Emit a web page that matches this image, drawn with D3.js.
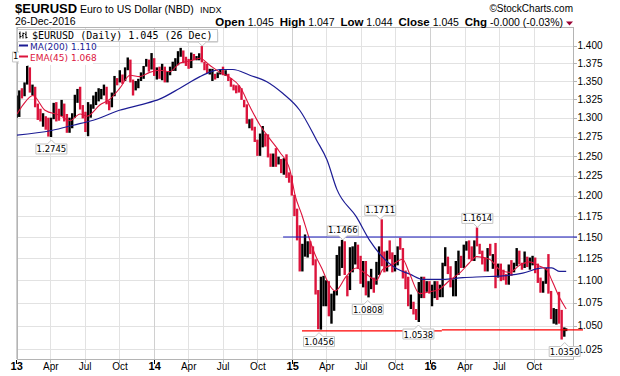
<!DOCTYPE html>
<html lang="en">
<head>
<meta charset="UTF-8">
<title>$EURUSD</title>
<script src="https://d3js.org/d3.v7.min.js"></script>
<style>
  body { margin: 0; background: #fff; }
  svg { display: block; }
  .grid line { stroke: #e2e2e2; stroke-width: 1; shape-rendering: crispEdges; }
  .axis path, .axis line { stroke: #b4b4b4; shape-rendering: crispEdges; }
  .axis text { font-family: 'Liberation Sans', Arial, sans-serif; font-size: 10px; fill: #000; }
  .axis .year text { font-weight: bold; font-size: 11px; }
  .hdr { font-family: 'Liberation Sans', Arial, sans-serif; fill: #000; }
  .note text { font-family: 'DejaVu Sans', sans-serif; font-size: 8.5px; fill: #000; text-anchor: middle; }
  .note path { fill: #fff; stroke: #c4c4c4; stroke-width: 1; }
</style>
</head>
<body>
<svg width="620" height="376"></svg>
<script>
// weekly bars [high, low, close], first week ends Fri 4 Jan 2013
const bars2013 = [
  [1.3300,1.3000,1.3070],[1.3370,1.3010,1.3360],[1.3400,1.3260,1.3310],[1.3480,1.3290,1.3460],
  [1.3710,1.3450,1.3640],[1.3690,1.3340,1.3360],[1.3450,1.3300,1.3360],[1.3420,1.3140,1.3190],
  [1.3190,1.2970,1.3020],[1.3120,1.2950,1.3010],[1.3060,1.2880,1.3070],[1.3020,1.2840,1.2990],
  [1.3000,1.2750,1.2820],[1.3000,1.2745,1.2990],[1.3200,1.2980,1.3110],[1.3210,1.2950,1.3050],
  [1.3120,1.2960,1.3030],[1.3240,1.3020,1.3120],[1.3190,1.2950,1.2980],[1.3050,1.2800,1.2830],
  [1.3000,1.2800,1.2930],[1.3060,1.2860,1.3000],[1.3310,1.3000,1.3220],[1.3390,1.3200,1.3340],
  [1.3420,1.3110,1.3120],[1.3170,1.2990,1.3010],[1.3080,1.2810,1.2830],[1.3210,1.2755,1.3070],
  [1.3180,1.3000,1.3140],[1.3300,1.3120,1.3280],[1.3350,1.3170,1.3280],[1.3400,1.3220,1.3340],
  [1.3390,1.3250,1.3340],[1.3450,1.3300,1.3380],[1.3420,1.3180,1.3220],[1.3230,1.3100,1.3180],
  [1.3340,1.3140,1.3300],[1.3570,1.3290,1.3520],[1.3540,1.3440,1.3490],[1.3650,1.3480,1.3560],
  [1.3590,1.3460,1.3550],[1.3690,1.3500,1.3680],[1.3830,1.3650,1.3800],[1.3800,1.3480,1.3480],
  [1.3520,1.3300,1.3360],[1.3500,1.3370,1.3500],[1.3530,1.3400,1.3550],[1.3620,1.3500,1.3590],
  [1.3710,1.3530,1.3700],[1.3810,1.3700,1.3740],[1.3800,1.3630,1.3670],[1.3893,1.3660,1.3800]
];
// first week ends Fri 3 Jan 2014
const bars2014 = [
  [1.3820,1.3570,1.3590],[1.3690,1.3520,1.3660],[1.3700,1.3530,1.3540],[1.3740,1.3510,1.3680],
  [1.3700,1.3480,1.3490],[1.3630,1.3480,1.3630],[1.3700,1.3580,1.3690],[1.3770,1.3640,1.3740],
  [1.3820,1.3640,1.3810],[1.3920,1.3720,1.3910],[1.3967,1.3840,1.3910],[1.3930,1.3750,1.3780],
  [1.3840,1.3710,1.3750],[1.3810,1.3670,1.3700],[1.3900,1.3680,1.3890],[1.3880,1.3790,1.3810],
  [1.3850,1.3790,1.3830],[1.3890,1.3790,1.3870],[1.3993,1.3760,1.3760],[1.3770,1.3650,1.3700],
  [1.3740,1.3610,1.3630],[1.3670,1.3590,1.3630],[1.3670,1.3500,1.3660],[1.3600,1.3520,1.3540],
  [1.3620,1.3540,1.3610],[1.3660,1.3590,1.3650],[1.3700,1.3580,1.3600],[1.3650,1.3570,1.3600],
  [1.3600,1.3500,1.3520],[1.3540,1.3420,1.3430],[1.3450,1.3370,1.3420],[1.3440,1.3330,1.3410],
  [1.3440,1.3340,1.3400],[1.3400,1.3240,1.3240],[1.3240,1.3140,1.3130],[1.3180,1.2920,1.2950],
  [1.2980,1.2860,1.2960],[1.2990,1.2830,1.2830],[1.2880,1.2680,1.2680],[1.2710,1.2500,1.2520],
  [1.2790,1.2500,1.2630],[1.2890,1.2610,1.2760],[1.2790,1.2620,1.2670],[1.2780,1.2480,1.2520],
  [1.2530,1.2360,1.2450],[1.2530,1.2360,1.2520],[1.2600,1.2360,1.2390],[1.2490,1.2390,1.2450],
  [1.2460,1.2280,1.2280],[1.2470,1.2260,1.2460],[1.2520,1.2220,1.2230],[1.2290,1.2160,1.2190]
];
// first week ends Fri 2 Jan 2015
const bars2015 = [
  [1.2250,1.2000,1.2000],[1.2010,1.1750,1.1840],[1.1840,1.1460,1.1560],[1.1640,1.1100,1.1210],
  [1.1420,1.1100,1.1290],[1.1530,1.1270,1.1310],[1.1450,1.1260,1.1390],[1.1450,1.1300,1.1380],
  [1.1390,1.1170,1.1200],[1.1240,1.0840,1.0840],[1.0890,1.0460,1.0500],[1.1040,1.0456,1.0820],
  [1.1050,1.0710,1.0890],[1.1000,1.0710,1.0990],[1.0990,1.0600,1.0600],[1.0850,1.0520,1.0810],
  [1.0880,1.0660,1.0870],[1.1290,1.0830,1.1200],[1.1390,1.1050,1.1200],[1.1466,1.1140,1.1450],
  [1.1450,1.1060,1.1010],[1.1050,1.0820,1.0950],[1.1380,1.0890,1.1110],[1.1390,1.1090,1.1260],
  [1.1440,1.1180,1.1350],[1.1410,1.1130,1.1170],[1.1280,1.0960,1.1110],[1.1220,1.0920,1.1160],
  [1.1220,1.0830,1.0830],[1.0990,1.0808,1.0980],[1.1130,1.0900,1.0980],[1.1030,1.0860,1.0970],
  [1.1210,1.0950,1.1120],[1.1390,1.1060,1.1390],[1.1711,1.1160,1.1180],[1.1330,1.1090,1.1150],
  [1.1340,1.1100,1.1340],[1.1460,1.1240,1.1300],[1.1320,1.1090,1.1200],[1.1290,1.1100,1.1210],
  [1.1390,1.1170,1.1360],[1.1490,1.1350,1.1350],[1.1370,1.1020,1.1020],[1.1110,1.0900,1.1000],
  [1.1040,1.0710,1.0740],[1.0840,1.0680,1.0770],[1.0760,1.0620,1.0650],[1.0680,1.0560,1.0590],
  [1.0980,1.0538,1.0880],[1.1040,1.0800,1.0990],[1.1040,1.0800,1.0870],[1.0990,1.0870,1.0970]
];
// first week ends Fri 1 Jan 2016
const bars2016 = [
  [1.0990,1.0850,1.0860],[1.0950,1.0710,1.0920],[1.0990,1.0800,1.0920],[1.0990,1.0780,1.0790],
  [1.0950,1.0810,1.0830],[1.1200,1.0810,1.1160],[1.1380,1.1160,1.1260],[1.1270,1.1070,1.1130],
  [1.1160,1.0920,1.0930],[1.1010,1.0820,1.1000],[1.1220,1.0820,1.1150],[1.1340,1.1060,1.1270],
  [1.1280,1.1140,1.1170],[1.1410,1.1140,1.1390],[1.1450,1.1340,1.1400],[1.1460,1.1240,1.1280],
  [1.1390,1.1220,1.1230],[1.1460,1.1220,1.1450],[1.1614,1.1390,1.1410],[1.1420,1.1300,1.1310],
  [1.1340,1.1180,1.1220],[1.1260,1.1100,1.1120],[1.1370,1.1100,1.1370],[1.1420,1.1280,1.1250],
  [1.1300,1.1130,1.1280],[1.1430,1.0910,1.1120],[1.1190,1.1030,1.1140],[1.1190,1.0990,1.1050],
  [1.1120,1.1000,1.1040],[1.1070,1.0950,1.0970],[1.1180,1.0950,1.1170],[1.1230,1.1050,1.1090],
  [1.1200,1.1090,1.1160],[1.1370,1.1160,1.1330],[1.1340,1.1180,1.1190],[1.1200,1.1120,1.1150],
  [1.1330,1.1140,1.1230],[1.1270,1.1150,1.1150],[1.1260,1.1120,1.1230],[1.1280,1.1170,1.1240],
  [1.1260,1.1080,1.1200],[1.1190,1.0970,1.0970],[1.1030,1.0860,1.0890],[1.0990,1.0860,1.0990],
  [1.1140,1.0960,1.1140],[1.1300,1.0850,1.0850],[1.0880,1.0570,1.0590],[1.0690,1.0520,1.0590],
  [1.0680,1.0510,1.0660],[1.0870,1.0520,1.0560],[1.0670,1.0350,1.0450],[1.0480,1.0380,1.0450]
];
const lastDay = ["2016-12-26", 1.047, 1.044, 1.045];

const ema45 = [
  ["2013-01-03",1.305],["2013-01-20",1.318],["2013-02-14",1.330],["2013-03-18",1.310],
  ["2013-04-27",1.303],["2013-05-23",1.296],["2013-06-19",1.305],["2013-07-07",1.302],
  ["2013-08-10",1.317],["2013-09-06",1.325],["2013-10-02",1.340],["2013-10-29",1.358],
  ["2013-11-24",1.356],["2013-12-20",1.362],["2014-01-16",1.365],["2014-02-11",1.363],
  ["2014-03-10",1.375],["2014-04-05",1.378],["2014-05-02",1.382],["2014-05-28",1.372],
  ["2014-06-24",1.362],["2014-07-20",1.355],["2014-08-16",1.342],["2014-09-11",1.315],
  ["2014-10-08",1.290],["2014-11-03",1.272],["2014-11-29",1.255],["2014-12-26",1.232],
  ["2015-01-09",1.200],["2015-01-27",1.176],["2015-02-14",1.150],["2015-03-02",1.130],
  ["2015-03-21",1.113],["2015-04-09",1.095],["2015-04-25",1.088],["2015-05-25",1.105],
  ["2015-06-20",1.114],["2015-07-16",1.107],["2015-08-12",1.100],["2015-08-28",1.112],
  ["2015-09-24",1.118],["2015-10-20",1.124],["2015-11-08",1.107],["2015-12-04",1.085],
  ["2015-12-31",1.087],["2016-01-26",1.090],["2016-02-22",1.100],["2016-03-19",1.108],
  ["2016-04-14",1.120],["2016-05-03",1.127],["2016-06-06",1.124],["2016-07-03",1.112],
  ["2016-07-29",1.109],["2016-08-25",1.117],["2016-09-20",1.121],["2016-10-17",1.116],
  ["2016-11-04",1.112],["2016-11-20",1.098],["2016-12-09",1.080],["2016-12-26",1.068]
];

const ma200 = [
  ["2013-01-03",1.277],["2013-04-04",1.283],["2013-06-01",1.290],["2013-08-01",1.298],
  ["2013-10-01",1.310],["2013-12-01",1.318],["2014-01-15",1.325],["2014-03-10",1.340],
  ["2014-05-02",1.356],["2014-06-01",1.363],["2014-06-24",1.366],["2014-07-28",1.366],
  ["2014-09-11",1.358],["2014-10-26",1.349],["2014-12-07",1.333],["2015-01-21",1.310],
  ["2015-03-07",1.270],["2015-04-03",1.245],["2015-04-29",1.208],["2015-06-20",1.174],
  ["2015-07-25",1.146],["2015-08-21",1.130],["2015-10-05",1.113],["2015-11-08",1.107],
  ["2015-12-13",1.101],["2016-02-04",1.101],["2016-03-28",1.103],["2016-05-19",1.104],
  ["2016-07-11",1.105],["2016-09-02",1.108],["2016-10-25",1.114],["2016-11-18",1.114],
  ["2016-12-09",1.110],["2016-12-26",1.110]
];

// annotated highs and lows
const notes = [
  ["2013-02-01",1.3710,"high"],["2013-04-04",1.2745,"low"],["2014-05-08",1.3993,"high"],
  ["2015-03-13",1.0456,"low"],["2015-05-15",1.1466,"high"],["2015-07-20",1.0808,"low"],
  ["2015-08-22",1.1711,"high"],["2015-12-01",1.0538,"low"],["2016-05-05",1.1614,"high"],
  ["2016-12-22",1.0350,"low"]
];
// notes that sit under the legend in the original (box only / clipped)
const coveredNotes = ["2014-05-08"];

// trend lines drawn on the chart [from, to, value]
const blueLines = [["2014-12-08","2016-12-26",1.150]];
const redLines = [["2015-01-27","2016-02-01",1.0442],["2016-02-01","2016-12-26",1.0454]];

const yTicks = [1.025,1.050,1.075,1.100,1.125,1.150,1.175,1.200,1.225,1.250,1.275,1.300,1.325,1.350,1.375,1.400];
const xTicks = [
  ["2013-01-01","13"],["2013-04-01","Apr"],["2013-07-01","Jul"],["2013-10-01","Oct"],
  ["2014-01-01","14"],["2014-04-01","Apr"],["2014-07-01","Jul"],["2014-10-01","Oct"],
  ["2015-01-01","15"],["2015-04-01","Apr"],["2015-07-01","Jul"],["2015-10-01","Oct"],
  ["2016-01-01","16"],["2016-04-01","Apr"],["2016-07-01","Jul"],["2016-10-01","Oct"]
];

const RED = "#dc143c", NAVY = "#1c1c94";

const svg = d3.select("svg");
const plot = {left: 17, right: 573, top: 27, bottom: 359};
const parse = d3.utcParse("%Y-%m-%d");

const x = d3.scaleUtc()
  .domain([parse("2013-01-03"), parse("2017-01-13")])
  .range([plot.left, plot.right]);
const y = d3.scaleLog()
  .domain([1.0145, 1.427])
  .range([plot.bottom, plot.top]);

// bars, centred mid-week
const bars = [];
[["2013-01-04", bars2013], ["2014-01-03", bars2014], ["2015-01-02", bars2015], ["2016-01-01", bars2016]]
  .forEach(([first, rows]) => {
    rows.forEach((r, i) => bars.push({
      date: d3.utcDay.offset(parse(first), 7 * i - 2), high: r[0], low: r[1], close: r[2]
    }));
  });
bars.push({date: parse(lastDay[0]), high: lastDay[1], low: lastDay[2], close: lastDay[3]});
bars.forEach((d, i) => { d.up = i === 0 || d.close >= bars[i - 1].close; });

svg.append("rect").attr("width", 620).attr("height", 376).attr("fill", "#fff");

const defs = svg.append("defs");
defs.append("clipPath").attr("id", "clip")
  .append("rect")
  .attr("x", plot.left).attr("y", plot.top)
  .attr("width", plot.right - plot.left).attr("height", plot.bottom - plot.top);

// grid
const grid = svg.append("g").attr("class", "grid");
grid.selectAll(".h").data(yTicks).enter().append("line")
  .attr("x1", plot.left).attr("x2", plot.right)
  .attr("y1", d => Math.round(y(d)) + 0.5).attr("y2", d => Math.round(y(d)) + 0.5);
grid.selectAll(".v").data(xTicks).enter().append("line")
  .attr("x1", d => Math.round(x(parse(d[0]))) + 0.5).attr("x2", d => Math.round(x(parse(d[0]))) + 0.5)
  .attr("y1", plot.top).attr("y2", plot.bottom)
  .style("stroke", d => d[1].length === 2 ? "#d0d0d0" : "#e2e2e2");

// frame
svg.append("rect")
  .attr("x", plot.left + 0.5).attr("y", plot.top + 0.5)
  .attr("width", plot.right - plot.left).attr("height", plot.bottom - plot.top)
  .attr("fill", "none").attr("stroke", "#b4b4b4");

// axes
const yAxis = svg.append("g").attr("class", "axis")
  .attr("transform", `translate(${plot.right + 0.5},0)`)
  .call(d3.axisRight(y).tickValues(yTicks).tickFormat(d3.format(".3f")).tickSize(3).tickPadding(1));
yAxis.select(".domain").remove();

const xAxis = svg.append("g").attr("class", "axis")
  .attr("transform", `translate(0,${plot.bottom + 0.5})`)
  .call(d3.axisBottom(x).tickValues(xTicks.map(d => parse(d[0])))
    .tickFormat((d, i) => xTicks[i][1]).tickSize(3));
xAxis.select(".domain").remove();
xAxis.selectAll(".tick").classed("year", (d, i) => xTicks[i][1].length === 2);
xAxis.selectAll("text").attr("y", 3);
xAxis.selectAll(".year line").style("stroke", "#000").attr("y2", 4);

// price bars
const chart = svg.append("g").attr("clip-path", "url(#clip)");
chart.selectAll(".bar").data(bars).enter().append("line")
  .attr("x1", d => x(d.date)).attr("x2", d => x(d.date))
  .attr("y1", d => y(d.high)).attr("y2", d => y(d.low))
  .attr("stroke", d => d.up ? "#000" : RED)
  .attr("stroke-width", 2.4);

const lineGen = d3.line()
  .x(d => x(parse(d[0]))).y(d => y(d[1]))
  .curve(d3.curveMonotoneX);

chart.append("path").datum(ma200)
  .attr("d", lineGen).attr("fill", "none").attr("stroke", NAVY).attr("stroke-width", 1.2);
chart.append("path").datum(ema45)
  .attr("d", lineGen).attr("fill", "none").attr("stroke", RED).attr("stroke-width", 1.1);

// horizontal trend lines
svg.selectAll(".blue").data(blueLines).enter().append("line")
  .attr("x1", d => x(parse(d[0]))).attr("x2", plot.right + 4)
  .attr("y1", d => y(d[2])).attr("y2", d => y(d[2]))
  .attr("stroke", "#1414b8").attr("stroke-width", 1.1);
svg.selectAll(".red").data(redLines).enter().append("line")
  .attr("x1", d => x(parse(d[0])))
  .attr("x2", (d, i) => i === redLines.length - 1 ? plot.right + 10 : x(parse(d[1])))
  .attr("y1", d => y(d[2])).attr("y2", d => y(d[2]))
  .attr("stroke", "#ff0000").attr("stroke-width", 1.2);

// value labels with a small pointer
const fmt4 = d3.format(".4f");
const noteG = svg.selectAll(".note").data(notes).enter().append("g").attr("class", "note");
noteG.append("path").attr("d", d => {
  const cx = x(parse(d[0])), py = y(d[1]), w = 31, h = 10, l = cx - w / 2, r = cx + w / 2;
  if (d[2] === "low") {
    const t = py + 7;
    return `M${l},${t}H${cx - 4}L${cx},${t - 4}L${cx + 4},${t}H${r}V${t + h}H${l}Z`;
  }
  const b = py - 4;
  return `M${l},${b}H${cx - 4}L${cx},${b + 4}L${cx + 4},${b}H${r}V${b - h}H${l}Z`;
});
defs.append("clipPath").attr("id", "legclip")
  .append("rect").attr("x", 0).attr("y", 0).attr("width", 19).attr("height", 376);
noteG.filter(d => !coveredNotes.includes(d[0])).append("text")
  .attr("x", d => x(parse(d[0])))
  .attr("y", d => d[2] === "low" ? y(d[1]) + 15.5 : y(d[1]) - 6.5)
  .attr("clip-path", d => x(parse(d[0])) < 40 ? "url(#legclip)" : null)
  .text(d => fmt4(d[1]));

// legend
const leg = svg.append("g");
leg.append("rect").attr("x", 17.5).attr("y", 29.5).attr("width", 200).attr("height", 12)
  .attr("fill", "#fff").attr("stroke", "#c8c8c8");
leg.append("path")
  .attr("d", "M20,31.5v7 M19,33.5h1 M20,36.5h1.5 M23,32.5v6 M22,35.5h1 M23,33.5h1.5 M26,31.5v7 M25,34.5h1 M26,37.5h1.5")
  .attr("stroke", "#000").attr("fill", "none");
leg.append("text").attr("x", 32).attr("y", 39)
  .style("font-family", "'DejaVu Sans Mono', monospace").style("font-size", "10px")
  .text("$EURUSD (Daily) 1.045 (26 Dec)");

[["MA(200) 1.110", NAVY, 44], ["EMA(45) 1.068", RED, 55]].forEach(([label, col, top]) => {
  leg.append("rect").attr("x", 19).attr("y", top - 1).attr("width", 74).attr("height", 11).attr("fill", "#fff");
  leg.append("line").attr("x1", 19).attr("x2", 28).attr("y1", top + 1.5).attr("y2", top + 1.5)
    .attr("stroke", col).attr("stroke-width", 2);
  leg.append("text").attr("x", 30).attr("y", top + 5.5)
    .style("font-family", "'DejaVu Sans', sans-serif").style("font-size", "9px").attr("fill", col)
    .text(label);
});

// header
svg.append("text").attr("class", "hdr").attr("x", 15).attr("y", 13)
  .style("font-size", "13px").style("font-weight", "bold").text("$EURUSD");
svg.append("text").attr("class", "hdr").attr("x", 80).attr("y", 13)
  .style("font-size", "10.5px").text("Euro to US Dollar (NBD)");
svg.append("text").attr("class", "hdr").attr("x", 200).attr("y", 13)
  .style("font-size", "9px").text("INDX");
svg.append("text").attr("class", "hdr").attr("x", 15).attr("y", 25)
  .style("font-size", "10.5px").text("26-Dec-2016");
svg.append("text").attr("class", "hdr").attr("x", 573).attr("y", 12)
  .attr("text-anchor", "end").style("font-size", "10px").attr("fill", "#555")
  .text("\u00A9StockCharts.com");

const quote = svg.append("text").attr("class", "hdr").attr("x", 563).attr("y", 26)
  .attr("text-anchor", "end").style("font-size", "10.5px");
[["Open", " 1.045  "], ["High", " 1.047  "], ["Low", " 1.044  "], ["Close", " 1.045  "], ["Chg", " -0.000 (-0.03%)"]]
  .forEach(([k, v]) => {
    quote.append("tspan").style("font-weight", "bold").style("font-size", "11.5px").text(k);
    quote.append("tspan").attr("xml:space", "preserve").text(v);
  });
svg.append("path").attr("d", "M566,21.5h7l-3.5,4z").attr("fill", "#990033");
</script>
</body>
</html>
